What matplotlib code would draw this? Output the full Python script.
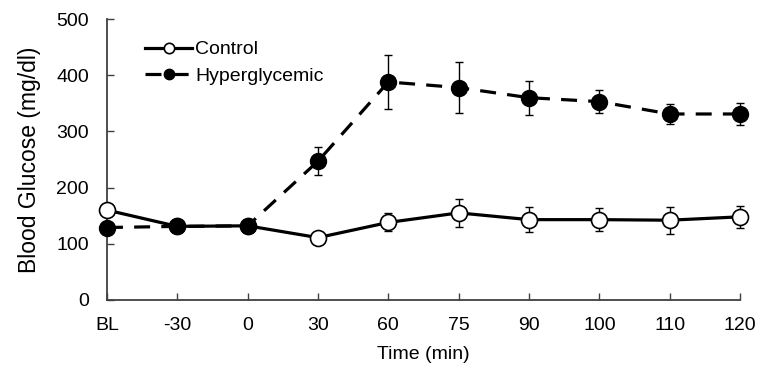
import matplotlib
matplotlib.use("Agg")
import matplotlib.pyplot as plt
import numpy as np

plt.rcParams['font.family'] = ['Liberation Sans', 'DejaVu Sans']

time_labels = ['BL', '-30', '0', '30', '60', '75', '90', '100', '110', '120']

control = [160, 131, 132, 111, 138, 155, 143, 143, 142, 148]
control_err = [6, 5, 5, 6, 16, 25, 22, 20, 24, 19]

hyper = [129, 131, 132, 247, 388, 378, 360, 353, 331, 331]
hyper_err = [5, 5, 6, 25, 48, 45, 30, 21, 18, 20]

x = np.arange(len(time_labels))

fig = plt.figure(figsize=(7.61, 3.75), dpi=100)
ax = fig.add_axes([0.1406, 0.2, 0.8318, 0.7493])

# error bars first, then lines with markers on top
ax.errorbar(x, control, yerr=control_err, fmt='none', ecolor='black',
            elinewidth=1, capsize=3, capthick=1, zorder=2, clip_on=False)
ax.errorbar(x, hyper, yerr=hyper_err, fmt='none', ecolor='black',
            elinewidth=1, capsize=3, capthick=1, zorder=2, clip_on=False)

ax.plot(x, control, color='black', lw=2.3, marker='o', markersize=11.5,
        markerfacecolor='white', markeredgecolor='black', markeredgewidth=1.2,
        label='Control', zorder=3, clip_on=False)
ax.plot(x, hyper, color='black', lw=2.3, dashes=(5, 3.5), marker='o',
        markersize=11.5, markerfacecolor='black', markeredgecolor='black',
        label='Hyperglycemic', zorder=4, clip_on=False)

ax.set_xlim(0, 9)
ax.set_ylim(0, 500)
ax.set_xticks(x)
ax.set_xticklabels(time_labels)
ax.set_yticks([0, 100, 200, 300, 400, 500])

for side in ['top', 'right']:
    ax.spines[side].set_visible(False)
for side in ['left', 'bottom']:
    ax.spines[side].set_color('#404040')
    ax.spines[side].set_linewidth(1.3)

ax.tick_params(axis='both', direction='in', length=5, width=1,
               color='#404040', labelsize=14)
ax.tick_params(axis='x', pad=12)
ax.tick_params(axis='y', pad=13)

ax.set_xlabel('Time (min)', fontsize=14, labelpad=9)
ax.set_ylabel('Blood Glucose (mg/dl)', fontsize=16.5, labelpad=11)

leg = ax.legend(loc='upper left', bbox_to_anchor=(0.032, 0.985), frameon=False,
                fontsize=14, handlelength=2.45, handletextpad=0.15,
                markerscale=0.65, labelspacing=0.45)

fig.savefig('out.png', dpi=100)
